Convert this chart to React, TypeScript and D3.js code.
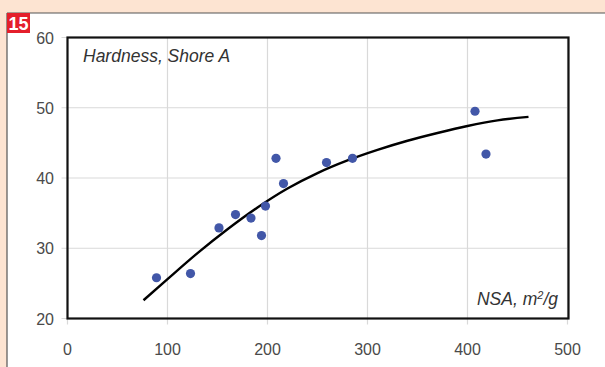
import React from "react";
import * as d3 from "d3";

const pointsX = [89, 123, 151.5, 168, 183.5, 194, 198, 208.5, 216, 259, 285, 407.5, 418.5];
const pointsY = [25.8, 26.4, 32.9, 34.8, 34.3, 31.8, 36.0, 42.8, 39.2, 42.2, 42.8, 49.5, 43.4];

const fitX = [76, 100, 130, 160, 190, 220, 250, 280, 310, 340, 370, 400, 430, 461];
const fitY = [22.6, 25.6, 29.3, 32.7, 35.8, 38.5, 40.7, 42.5, 44.0, 45.3, 46.4, 47.4, 48.2, 48.7];

const xTicks = [0, 100, 200, 300, 400, 500];
const yTicks = [20, 30, 40, 50, 60];

const yTitle = "Hardness, Shore A";
const figNumber = "15";

export default function App() {
  const W = 605, H = 367;
  const left = 67.5, right = 567.5, top = 37.5, bottom = 318.5;
  const x = d3.scaleLinear().domain([0, 500]).range([left, right]);
  const y = d3.scaleLinear().domain([20, 60]).range([bottom, top]);
  const line = d3
    .line<number>()
    .x((_, i) => x(fitX[i]))
    .y((d) => y(d))
    .curve(d3.curveMonotoneX);
  const font = "'Liberation Sans', Arial, sans-serif";
  return (
    <svg
      width={W}
      height={H}
      style={{ position: "absolute", left: 0, top: 0, display: "block" }}
      fontFamily={font}
    >
      <rect x={0} y={0} width={W} height={H} fill="#fde4d2" />
      <rect x={7} y={13} width={W - 7} height={H - 13} fill="#ffffff" />
      <line x1={7} y1={13} x2={W} y2={13} stroke="#555" strokeWidth={1.2} />
      <line x1={7} y1={13} x2={7} y2={H} stroke="#555" strokeWidth={1.2} />
      <rect x={7} y={13} width={23} height={20} fill="#e41f2b" />
      <text x={18.5} y={30} textAnchor="middle" fill="#fff" fontWeight="bold" fontSize={18}>
        {figNumber}
      </text>

      {xTicks.map((t) => (
        <g key={"x" + t}>
          <line x1={x(t)} x2={x(t)} y1={top} y2={bottom + 6} stroke="#d9d9d9" strokeWidth={1.2} />
          <text x={x(t)} y={355} textAnchor="middle" fontSize={16} fill="#4a4a4a">
            {t}
          </text>
        </g>
      ))}
      {yTicks.map((t) => (
        <g key={"y" + t}>
          <line x1={left - 6} x2={right} y1={y(t)} y2={y(t)} stroke="#d9d9d9" strokeWidth={1.2} />
          <text x={54} y={y(t) + 6} textAnchor="end" fontSize={16} fill="#4a4a4a">
            {t}
          </text>
        </g>
      ))}

      <rect
        x={left}
        y={top}
        width={right - left + 1}
        height={bottom - top}
        fill="none"
        stroke="#111"
        strokeWidth={2.2}
      />

      <path d={line(fitY) || ""} fill="none" stroke="#000" strokeWidth={2.4} />

      {pointsX.map((px, i) => (
        <circle key={i} cx={x(px)} cy={y(pointsY[i])} r={4.6} fill="#4257a8" />
      ))}

      <text x={83} y={62} fontSize={17.5} fontStyle="italic" fill="#333">
        {yTitle}
      </text>
      <text x={558} y={305} textAnchor="end" fontSize={17.5} fontStyle="italic" fill="#333">
        NSA, m<tspan fontSize={11} dy={-6}>2</tspan>
        <tspan dy={6}>/g</tspan>
      </text>
    </svg>
  );
}
